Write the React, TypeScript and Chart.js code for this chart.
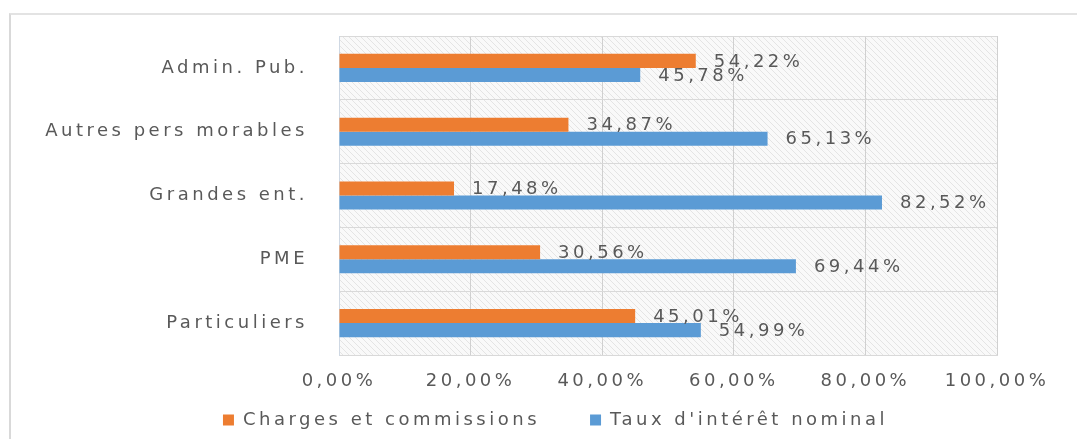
import React, { useEffect, useRef } from 'react';
import { Chart, registerables } from 'chart.js';

Chart.register(...registerables);

const categories = ['Admin. Pub.', 'Autres pers morables', 'Grandes ent.', 'PME', 'Particuliers'];
const seriesNames = ['Charges et commissions', "Taux d'intérêt nominal"];
const chargesValues = [54.22, 34.87, 17.48, 30.56, 45.01];
const tauxValues = [45.78, 65.13, 82.52, 69.44, 54.99];
const xTickMin = 0;
const xTickMax = 100;
const xTickStep = 20;

const FONT = '"DejaVu Sans", sans-serif';
const LS = '3.5px';
const TEXT = '#595959';

const fmt = (v: number) => v.toFixed(2).replace('.', ',') + '%';

function makePattern(ctx: CanvasRenderingContext2D) {
  const s = 6;
  const p = document.createElement('canvas');
  p.width = s;
  p.height = s;
  const pc = p.getContext('2d')!;
  pc.fillStyle = '#f9f9f9';
  pc.fillRect(0, 0, s, s);
  pc.strokeStyle = '#e4e4e4';
  pc.lineWidth = 1;
  pc.beginPath();
  pc.moveTo(-1, -1);
  pc.lineTo(s + 1, s + 1);
  pc.moveTo(-1, s - 1);
  pc.lineTo(1, s + 1);
  pc.moveTo(s - 1, -1);
  pc.lineTo(s + 1, 1);
  pc.stroke();
  return ctx.createPattern(p, 'repeat');
}

const stylePlugin = {
  id: 'stylePlugin',
  beforeUpdate(chart: any) {
    chart.ctx.letterSpacing = LS;
  },
  beforeLayout(chart: any) {
    chart.ctx.letterSpacing = LS;
  },
  afterLayout(chart: any) {
    const lg = chart.legend;
    if (lg) {
      lg.left = 114;
      lg.right = 997;
      lg.top = 361;
      lg.bottom = 439;
      lg.width = lg.right - lg.left;
      lg.height = lg.bottom - lg.top;
    }
  },
  beforeDraw(chart: any) {
    const ctx = chart.ctx;
    ctx.letterSpacing = LS;
    const a = chart.chartArea;
    ctx.save();
    const pat = makePattern(ctx);
    if (pat) {
      ctx.fillStyle = pat;
      ctx.fillRect(a.left, a.top, a.right - a.left, a.bottom - a.top);
    }
    ctx.restore();
  },
  afterDatasetsDraw(chart: any) {
    const ctx = chart.ctx;
    ctx.save();
    ctx.letterSpacing = LS;
    ctx.font = `18px ${FONT}`;
    ctx.fillStyle = TEXT;
    ctx.textAlign = 'left';
    ctx.textBaseline = 'middle';
    chart.data.datasets.forEach((ds: any, di: number) => {
      chart.getDatasetMeta(di).data.forEach((bar: any, i: number) => {
        ctx.fillText(fmt(ds.data[i]), bar.x + 18, bar.y + 1);
      });
    });
    ctx.restore();
  },
};

export default function App() {
  const ref = useRef<HTMLCanvasElement>(null);

  useEffect(() => {
    if (!ref.current) return;
    const chart = new Chart(ref.current, {
      type: 'bar',
      data: {
        labels: categories,
        datasets: [
          {
            label: seriesNames[0],
            data: chargesValues,
            backgroundColor: '#ED7D31',
            borderWidth: 0,
          },
          {
            label: seriesNames[1],
            data: tauxValues,
            backgroundColor: '#5B9BD5',
            borderWidth: 0,
          },
        ],
      },
      plugins: [stylePlugin],
      options: {
        indexAxis: 'y',
        responsive: false,
        animation: false,
        devicePixelRatio: 1,
        datasets: {
          bar: {
            categoryPercentage: 0.44,
            barPercentage: 1,
          },
        },
        layout: {
          padding: { left: 20, right: 80, top: 36, bottom: -34 },
        },
        scales: {
          x: {
            min: xTickMin,
            max: xTickMax,
            ticks: {
              stepSize: xTickStep,
              color: TEXT,
              font: { family: FONT, size: 18 },
              padding: 16,
              maxRotation: 0,
              autoSkip: false,
              callback: (v: any) => fmt(Number(v)),
            },
            grid: { color: '#d0d0d0', drawTicks: false },
            border: { color: '#d9d9d9' },
            afterFit: (s: any) => {
              s.height = 40;
              s.paddingLeft = 0;
              s.paddingRight = 0;
            },
          },
          y: {
            ticks: {
              color: TEXT,
              font: { family: FONT, size: 18 },
              padding: 31,
              autoSkip: false,
            },
            grid: { color: '#d9d9d9', drawTicks: false },
            border: { color: '#cfd8e3' },
            afterFit: (s: any) => {
              s.width = 319;
              s.paddingTop = 0;
              s.paddingBottom = 0;
            },
          },
        },
        plugins: {
          legend: {
            position: 'bottom',
            labels: {
              boxWidth: 11,
              boxHeight: 11,
              padding: 50,
              color: TEXT,
              font: { family: FONT, size: 18 },
            },
          },
          tooltip: { enabled: false },
        },
      } as any,
    });
    return () => chart.destroy();
  }, []);

  return (
    <div
      style={{
        position: 'fixed',
        left: 0,
        top: 0,
        width: 1077,
        height: 439,
        overflow: 'hidden',
        background: '#ffffff',
      }}
    >
      <div
        style={{
          position: 'absolute',
          left: 9,
          top: 13,
          width: 1200,
          height: 600,
          borderLeft: '2px solid #d9d9d9',
          borderTop: '2px solid #e3e3e3',
        }}
      />
      <canvas
        ref={ref}
        width={1077}
        height={439}
        style={{ position: 'absolute', left: 0, top: 0, width: 1077, height: 439 }}
      />
    </div>
  );
}
